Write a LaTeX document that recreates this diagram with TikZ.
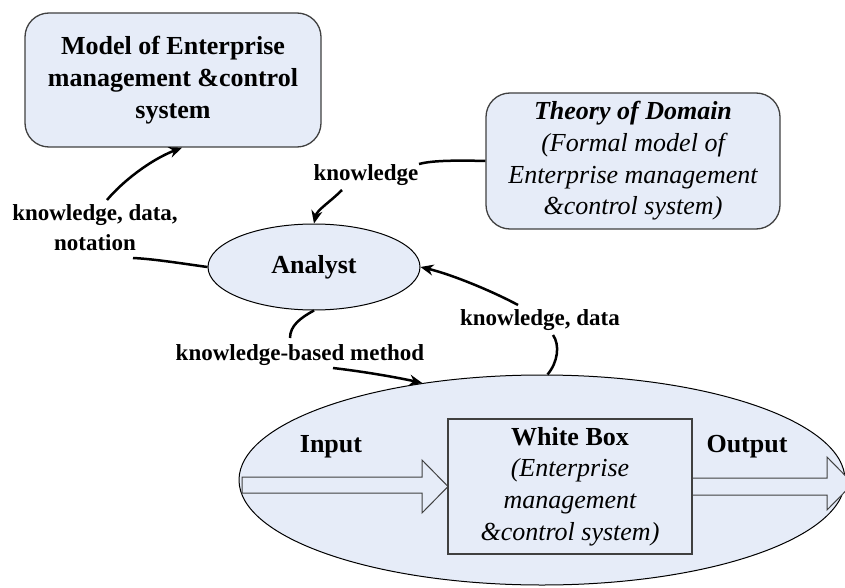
\documentclass[tikz,border=0pt]{standalone}
\usepackage{fontspec}
\setmainfont{Liberation Serif}
\usetikzlibrary{arrows.meta,shapes.geometric}
\definecolor{bluefill}{RGB}{230,236,248}
\definecolor{edgegrey}{RGB}{64,64,64}
\begin{document}
\begin{tikzpicture}[x=1pt,y=-1pt,
  bigtxt/.style={font=\fontsize{26}{31.7}\selectfont, align=center},
  lbl/.style={font=\fontsize{23}{30}\selectfont\bfseries, align=center, inner sep=0pt},
  rbox/.style={draw=edgegrey, line width=1.3pt, fill=bluefill, rounded corners=24pt, inner sep=0pt, bigtxt},
  ell/.style={ellipse, draw=black, line width=1pt, fill=bluefill, inner sep=0pt, bigtxt},
  wbox/.style={draw=edgegrey, line width=1.2pt, fill=bluefill, inner sep=0pt, bigtxt},
  conn/.style={line width=2.5pt, draw=black},
  arr/.style={conn, -{Stealth[length=13pt,width=11pt]}},
  fatarrow/.style={draw=edgegrey, line width=1pt, fill=bluefill, line join=miter}
]
\clip (0,0) rectangle (845,588);

% main nodes
\node[rbox, minimum width=296pt, minimum height=134pt] (m) at (173,80)
  {\bfseries Model of Enterprise\\ \bfseries management \&control\\ \bfseries system};
\node[rbox, minimum width=294pt, minimum height=136pt] (th) at (633,161)
  {\bfseries\itshape Theory of Domain\\ \itshape (Formal model of\\ \itshape Enterprise management\\ \itshape \&control system)};
\node[ell, minimum width=212pt, minimum height=86pt] (an) at (314,267) {\bfseries Analyst};
\node[ell, minimum width=606pt, minimum height=210pt] (bg) at (542,480) {};

% fat input / output arrows
\draw[fatarrow] (242,477) -- (422,477) -- (422,460) -- (448,486.5) -- (422,513) -- (422,493) -- (242,493) -- cycle;
\draw[fatarrow] (692,478) -- (827,478) -- (827,457) -- (853,483.5) -- (827,510) -- (827,495) -- (692,495) -- cycle;

\node[wbox, minimum width=244pt, minimum height=135pt] (wb) at (570,486.5)
  {\bfseries White Box\\ \itshape (Enterprise\\ \itshape management\\ \itshape \&control system)};

\node[bigtxt, font=\fontsize{26}{31.7}\selectfont\bfseries, inner sep=0pt] (in) at (331,447) {Input};
\node[bigtxt, font=\fontsize{26}{31.7}\selectfont\bfseries, inner sep=0pt] (out) at (747,447) {Output};

% labels
\node[lbl] (kdn) at (95,228) {knowledge, data,\\notation};
\node[lbl] (kn) at (366,175) {knowledge};
\node[lbl] (kbm) at (300,355) {knowledge-based method};
\node[lbl] (kd) at (540,320) {knowledge, data};

% free ends of connectors near labels
\coordinate (c1) at (133,258);
\coordinate (c2) at (107,200);
\coordinate (c3) at (419,164);
\coordinate (c4) at (342,190);
\coordinate (c5) at (290,338);
\coordinate (c6) at (333,368);
\coordinate (c7) at (553,335);
\coordinate (c8) at (518,305);

% connectors
\draw[conn] (an.west) .. controls (185,264) and (155,259) .. (c1);
\draw[arr] (c2) .. controls (122,182) and (150,160) .. ([xshift=9pt]m.south);
\draw[conn] (th.west) .. controls (450,160) and (430,161) .. (c3);
\draw[arr] (c4) .. controls (330,202) and (317,210) .. (an.north);
\draw[conn] (an.south) .. controls (300,318) and (290,326) .. (c5);
\draw[arr] (c6) .. controls (367,372) and (400,378) .. (bg.141);
\draw[conn] (bg.87) .. controls (558,362) and (560,345) .. (c7);
\draw[arr] (c8) .. controls (490,290) and (450,274) .. (an.east);
\end{tikzpicture}
\end{document}
